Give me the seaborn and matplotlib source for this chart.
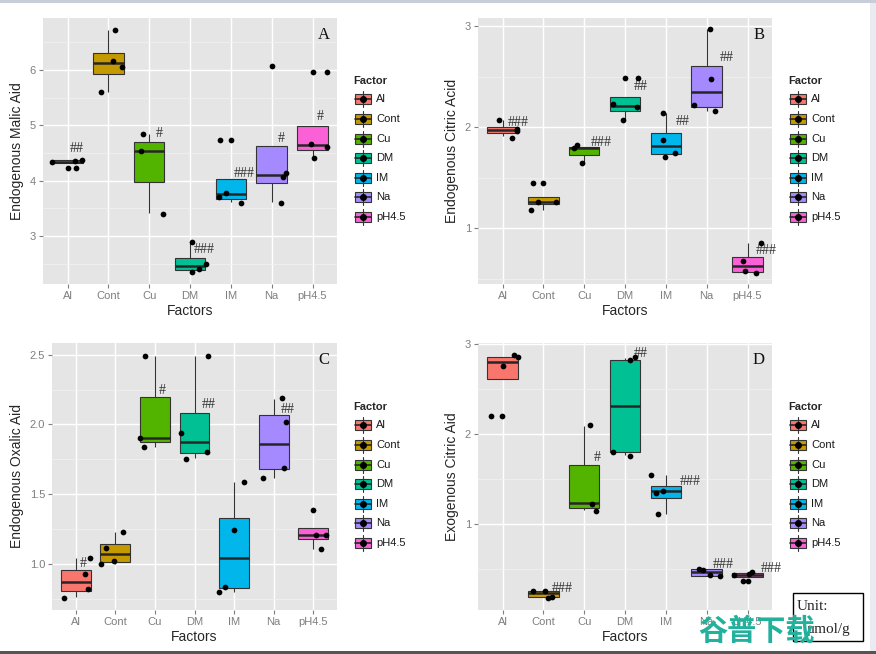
import matplotlib.pyplot as plt
import matplotlib.patches as mpatches
from matplotlib.ticker import MultipleLocator
import seaborn as sns
import numpy as np
import pandas as pd

factors = ["Al", "Cont", "Cu", "DM", "IM", "Na", "pH4.5"]
colori = ["#F8766D", "#C49A00", "#53B400", "#00C094", "#00B6EB", "#A58AFF", "#FB61D7"]

# box stats per fattore: [whisker basso, q1, mediana, q3, whisker alto]
A_box = [[4.31, 4.31, 4.34, 4.37, 4.37], [5.60, 5.93, 6.12, 6.30, 6.72], [3.41, 3.97, 4.54, 4.69, 4.84],
         [2.36, 2.39, 2.46, 2.60, 2.89], [3.62, 3.66, 3.75, 4.02, 4.02], [3.61, 3.95, 4.10, 4.62, 4.62],
         [4.43, 4.55, 4.64, 4.98, 4.98]]
A_val = [[4.34, 4.22, 4.22, 4.36, 4.37], [6.72, 5.60, 6.17, 6.06], [4.84, 4.54, 3.40], [2.89, 2.34, 2.40, 2.50],
         [4.74, 4.74, 3.70, 3.78, 3.59], [6.07, 4.06, 4.13, 3.59], [5.97, 5.97, 4.66, 4.61, 4.41]]
A_jit = [[-0.38, 0.0, 0.21, 0.19, 0.35], [0.16, -0.17, 0.12, 0.34], [-0.15, -0.21, 0.33], [0.04, 0.05, 0.21, 0.39],
         [-0.26, 0.0, -0.29, -0.13, 0.24], [0.0, 0.28, 0.36, 0.23], [0.0, 0.36, -0.04, 0.36, 0.04]]
A_mark = ["##", "", "#", "###", "###", "#", "#"]
A_mark_dx = [0.23, 0, 0.24, 0.35, 0.33, 0.24, 0.2]
A_mark_y = [4.58, np.nan, 4.86, 2.75, 4.13, 4.77, 5.16]

B_box = [[1.91, 1.94, 1.97, 2.00, 2.07], [1.18, 1.24, 1.26, 1.31, 1.31], [1.64, 1.72, 1.79, 1.80, 1.80],
         [2.07, 2.16, 2.21, 2.30, 2.30], [1.73, 1.73, 1.81, 1.94, 2.14], [2.16, 2.20, 2.35, 2.61, 2.97],
         [0.57, 0.57, 0.63, 0.72, 0.85]]
B_val = [[2.07, 1.89, 1.98, 1.96], [1.45, 1.45, 1.18, 1.26, 1.26], [1.79, 1.82, 1.65], [2.49, 2.49, 2.23, 2.20, 2.07],
         [2.14, 1.87, 1.70, 1.74], [2.97, 2.48, 2.22, 2.16], [0.85, 0.68, 0.58, 0.56]]
B_jit = [[-0.09, 0.24, 0.35, 0.35], [-0.25, 0.0, -0.29, -0.13, 0.30], [-0.26, -0.17, -0.05], [0.0, 0.33, -0.29, 0.30, -0.05],
         [-0.07, -0.07, -0.02, 0.23], [0.09, 0.11, -0.31, 0.21], [0.34, -0.10, -0.05, 0.21]]
B_mark = ["###", "", "###", "##", "##", "##", "###"]
B_mark_dx = [0.39, 0, 0.41, 0.38, 0.41, 0.48, 0.45]
B_mark_y = [2.05, np.nan, 1.85, 2.40, 2.06, 2.69, 0.78]

C_box = [[0.76, 0.804, 0.873, 0.955, 1.04], [1.0, 1.017, 1.069, 1.144, 1.227], [1.84, 1.873, 1.904, 2.196, 2.49],
         [1.76, 1.794, 1.873, 2.079, 2.49], [0.80, 0.825, 1.041, 1.33, 1.586], [1.615, 1.679, 1.861, 2.067, 2.18],
         [1.11, 1.182, 1.208, 1.256, 1.256]]
C_val = [[0.756, 1.04, 0.93, 0.82], [1.23, 1.117, 0.998, 1.02], [2.49, 1.90, 1.84], [2.49, 1.94, 1.75, 1.80],
         [1.59, 1.244, 0.835, 0.80], [2.19, 2.02, 1.69, 1.617], [1.385, 1.208, 1.208, 1.105]]
C_jit = [[-0.29, 0.37, 0.23, 0.31], [0.19, -0.24, -0.36, -0.03], [-0.24, -0.38, -0.28], [0.35, -0.34, -0.21, 0.32],
         [0.24, 0.0, -0.23, -0.39], [0.2, 0.31, 0.25, -0.27], [0.0, 0.07, 0.33, 0.19]]
C_mark = ["#", "", "#", "##", "", "##", ""]
C_mark_dx = [0.19, 0, 0.19, 0.36, 0, 0.36, 0]
C_mark_y = [1.0, np.nan, 2.24, 2.14, np.nan, 2.11, np.nan]

D_box = [[2.611, 2.611, 2.80, 2.856, 2.856], [0.185, 0.185, 0.23, 0.256, 0.256], [1.156, 1.181, 1.226, 1.656, 2.09],
         [1.76, 1.793, 2.311, 2.822, 2.84], [1.11, 1.285, 1.367, 1.415, 1.537], [0.426, 0.426, 0.463, 0.5, 0.5],
         [0.411, 0.411, 0.433, 0.456, 0.456]]
D_val = [[2.878, 2.85, 2.75, 2.2, 2.2], [0.256, 0.256, 0.174, 0.193], [2.096, 1.222, 1.141], [2.815, 2.85, 1.80, 1.756],
         [1.544, 1.344, 1.37, 1.107], [0.5, 0.485, 0.433, 0.426], [0.437, 0.367, 0.367, 0.44, 0.47]]
D_jit = [[0.29, 0.37, 0.0, -0.27, -0.01], [-0.25, 0.05, 0.12, 0.22], [0.15, 0.19, 0.29], [0.12, 0.24, -0.29, 0.12],
         [-0.36, -0.25, -0.07, -0.2], [-0.18, -0.1, 0.09, 0.33], [-0.33, -0.1, 0.0, 0.04, 0.11]]
D_mark = ["", "###", "#", "##", "###", "###", "###"]
D_mark_dx = [0, 0.47, 0.33, 0.38, 0.6, 0.41, 0.57]
D_mark_y = [np.nan, 0.285, 1.74, 2.89, 1.47, 0.55, 0.507]

W, H = 876, 654
sns.set_style("darkgrid", {"axes.facecolor": "#E5E5E5", "grid.color": "white"})
plt.rcParams['font.family'] = ['Liberation Sans', 'DejaVu Sans']

fig = plt.figure(figsize=(W / 100, H / 100), dpi=100)
fig.patch.set_facecolor("white")


def pannello(rect, lettera, box, val, jit, mark, mark_dx, mark_y, ylabel, ylim, yticks, ytl, minor):
    x0, y0, x1, y1 = rect
    ax = fig.add_axes([x0 / W, 1 - y1 / H, (x1 - x0) / W, (y1 - y0) / H])
    df = pd.DataFrame({"Factor": np.repeat(factors, 5), "v": np.concatenate(box)})
    sns.boxplot(data=df, x="Factor", y="v", hue="Factor", order=factors, hue_order=factors, palette=colori,
                saturation=1, width=0.75, whis=(0, 100), showfliers=False, showcaps=False,
                linecolor="#333333", linewidth=0.8,
                medianprops={"linewidth": 1.8, "color": "#262626"}, legend=False, ax=ax)
    px = np.concatenate([np.array(j) + i for i, j in enumerate(jit)])
    py = np.concatenate(val)
    sns.scatterplot(x=px, y=py, color="black", s=17, linewidth=0, zorder=5, ax=ax)
    for i, m in enumerate(mark):
        if m:
            ax.text(i + mark_dx[i], mark_y[i], m, ha="center", va="center", fontsize=10,
                    family="Liberation Serif", color="#333333")
    ax.text(0.955, 0.935, lettera, transform=ax.transAxes, ha="center", va="center", fontsize=12,
            family="Liberation Serif", color="#111111")
    ax.set_xlim(-0.6, 6.6)
    ax.set_ylim(*ylim)
    ax.set_yticks(yticks)
    ax.set_yticklabels(ytl)
    ax.yaxis.set_minor_locator(MultipleLocator(minor))
    ax.set_axisbelow(True)
    ax.grid(True, which="major", color="white", linewidth=1.0)
    ax.xaxis.grid(True, color="white", linewidth=1.0)
    ax.yaxis.grid(True, which="minor", color="#F2F2F2", linewidth=0.5)
    for s in ax.spines.values():
        s.set_visible(False)
    ax.tick_params(axis="both", which="major", length=3, width=0.8, color="#7F7F7F",
                   labelcolor="#7F7F7F", labelsize=8, pad=2, left=True, bottom=True)
    ax.tick_params(which="minor", length=0)
    ax.set_xlabel("Factors", fontsize=10, labelpad=2)
    ax.set_ylabel(ylabel, fontsize=10, labelpad=4)
    return ax


def legenda(x, ytitle):
    lax = fig.add_axes([x / W, 1 - (ytitle + 150) / H, 80 / W, 160 / H])
    lax.set_xlim(x, x + 80)
    lax.set_ylim(ytitle + 150, ytitle - 10)
    lax.axis("off")
    lax.text(x, ytitle, "Factor", fontsize=8, fontweight="bold", va="center", ha="left")
    for i, (f, c) in enumerate(zip(factors, colori)):
        yc = ytitle + 18.3 + 19.6 * i
        lax.plot([x + 10, x + 10], [yc - 8, yc + 8], color="#333333", lw=0.8)
        lax.add_patch(mpatches.Rectangle((x + 2, yc - 5), 16, 10, facecolor=c, edgecolor="#333333", lw=0.8))
        lax.plot([x + 2, x + 18], [yc, yc], color="#262626", lw=1.2)
        lax.plot([x + 10], [yc], "o", color="black", ms=4)
        lax.text(x + 23, yc, f, fontsize=8, va="center", ha="left", color="#1a1a1a")


pannello((43, 18, 337, 284), "A", A_box, A_val, A_jit, A_mark, A_mark_dx, A_mark_y, "Endogenous Malic Aid",
         (2.13, 6.94), [3, 4, 5, 6], ["3", "4", "5", "6"], 0.5)
pannello((478, 18, 772, 284), "B", B_box, B_val, B_jit, B_mark, B_mark_dx, B_mark_y, "Endogenous Citric Acid",
         (0.448, 3.08), [1, 2, 3], ["1", "2", "3"], 0.5)
pannello((52, 343, 337, 610), "C", C_box, C_val, C_jit, C_mark, C_mark_dx, C_mark_y, "Endogenous Oxalic Aid",
         (0.670, 2.584), [1.0, 1.5, 2.0, 2.5], ["1.0", "1.5", "2.0", "2.5"], 0.25)
pannello((478, 343, 772, 610), "D", D_box, D_val, D_jit, D_mark, D_mark_dx, D_mark_y, "Exogenous Citric Aid",
         (0.044, 3.007), [1, 2, 3], ["1", "2", "3"], 0.5)

legenda(353, 81)
legenda(788, 81)
legenda(353, 407)
legenda(788, 407)

# cornici della pagina
fig.add_artist(mpatches.Rectangle((0, 1 - 3 / H), 1, 3 / H, transform=fig.transFigure, color="#C8CED8", lw=0))
fig.add_artist(mpatches.Rectangle((0, 0), 1, 3 / H, transform=fig.transFigure, color="#555555", lw=0))
fig.add_artist(mpatches.Rectangle((870 / W, 3 / H), 6 / W, 1 - 6 / H, transform=fig.transFigure,
                                  color="#E9EBF0", lw=0))

# riquadro unita
fig.add_artist(mpatches.Rectangle((793 / W, 1 - 641 / H), 70 / W, 48 / H, transform=fig.transFigure,
                                  facecolor="white", edgecolor="black", lw=1.0))
fig.text(797 / W, 1 - 607 / H, "Unit:", fontsize=11, family="Liberation Serif", va="center", ha="left")
fig.text(807 / W, 1 - 629 / H, "μmol/g", fontsize=11, family="Liberation Serif", va="center", ha="left")

# filigrana
fig.text(757 / W, 1 - 631 / H, "谷普下载", fontsize=21, fontweight="bold", color="#22B19C",
         family=["Noto Sans CJK SC", "DejaVu Sans"], va="center", ha="center")

fig.savefig("out.png", dpi=100)
